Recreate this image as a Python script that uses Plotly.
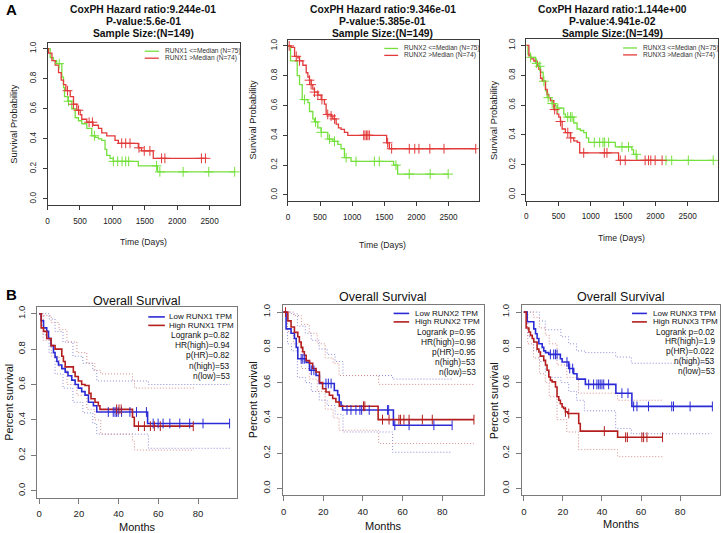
import plotly.graph_objects as go

# ---------------- DATA ----------------
# Panel A (days, survival probability)
A1_low_t = [0, 40, 90, 140, 220, 246, 262, 313, 374, 426, 477, 528, 605, 682, 733, 785, 836, 887, 913, 964, 1015, 1400, 1697, 2887]
A1_low_s = [1.0, 0.94, 0.92, 0.90, 0.81, 0.74, 0.68, 0.65, 0.60, 0.54, 0.52, 0.50, 0.47, 0.42, 0.41, 0.40, 0.39, 0.33, 0.29, 0.27, 0.25, 0.22, 0.18, 0.18]
A1_low_c = [180, 323, 723, 1015, 1082, 1149, 1205, 1251, 1682, 1733, 2092, 2487, 2887]
A1_high_t = [0, 15, 67, 118, 169, 210, 246, 282, 349, 400, 451, 503, 528, 605, 700, 785, 836, 913, 1041, 1092, 1400, 1451, 1631, 2451]
A1_high_s = [1.0, 0.97, 0.92, 0.89, 0.84, 0.79, 0.76, 0.72, 0.68, 0.63, 0.59, 0.56, 0.53, 0.51, 0.49, 0.47, 0.44, 0.42, 0.39, 0.37, 0.34, 0.32, 0.27, 0.27]
A1_high_c = [308, 400, 477, 641, 692, 1144, 1205, 1272, 1410, 1492, 1579, 1759, 1810, 2374, 2436]

A2_low_t = [0, 41, 145, 181, 223, 311, 336, 388, 414, 466, 518, 621, 699, 776, 828, 880, 983, 1646, 1708, 2495]
A2_low_s = [1.0, 0.90, 0.80, 0.74, 0.64, 0.62, 0.56, 0.51, 0.49, 0.45, 0.42, 0.375, 0.36, 0.34, 0.31, 0.25, 0.225, 0.20, 0.14, 0.14]
A2_low_c = [259, 430, 518, 647, 725, 906, 1061, 1346, 1423, 1682, 1889, 2215, 2495]
A2_high_t = [0, 52, 104, 155, 181, 233, 285, 311, 336, 362, 388, 414, 466, 518, 569, 595, 673, 699, 751, 787, 828, 880, 932, 1537, 1579, 2924]
A2_high_s = [1.0, 0.99, 0.93, 0.92, 0.90, 0.87, 0.82, 0.79, 0.77, 0.74, 0.71, 0.69, 0.67, 0.64, 0.61, 0.54, 0.53, 0.51, 0.475, 0.45, 0.44, 0.42, 0.40, 0.35, 0.31, 0.31]
A2_high_c = [20, 130, 181, 336, 362, 414, 466, 530, 620, 673, 725, 1180, 1200, 1225, 1245, 1268, 1553, 1615, 1890, 1975, 2040, 2210, 2430, 2924]

A3_low_t = [0, 26, 67, 144, 195, 221, 262, 298, 324, 376, 401, 453, 478, 581, 607, 736, 787, 838, 890, 931, 967, 1379, 1636, 1662, 1713, 2896]
A3_low_s = [1.0, 0.94, 0.92, 0.88, 0.86, 0.82, 0.76, 0.695, 0.65, 0.63, 0.61, 0.595, 0.58, 0.54, 0.52, 0.48, 0.44, 0.43, 0.415, 0.38, 0.35, 0.32, 0.30, 0.27, 0.23, 0.23]
A3_low_c = [67, 160, 210, 273, 340, 401, 489, 642, 684, 710, 1054, 1137, 1188, 1214, 1276, 1482, 1584, 1702, 2165, 2253, 2510, 2896]
A3_high_t = [0, 41, 67, 118, 170, 195, 221, 247, 298, 324, 350, 376, 427, 478, 504, 530, 556, 607, 684, 736, 790, 828, 1430, 2104]
A3_high_s = [1.0, 0.93, 0.91, 0.895, 0.86, 0.84, 0.78, 0.76, 0.705, 0.67, 0.65, 0.63, 0.57, 0.54, 0.52, 0.49, 0.44, 0.415, 0.38, 0.36, 0.35, 0.28, 0.23, 0.23]
A3_high_c = [440, 530, 643, 690, 890, 1209, 1250, 1457, 1533, 1841, 1893, 1929, 1996, 2104]

A_titles = [
    "CoxPH Hazard ratio:9.244e-01<br>P-value:5.6e-01<br>Sample Size:(N=149)",
    "CoxPH Hazard ratio:9.346e-01<br>P-value:5.385e-01<br>Sample Size:(N=149)",
    "CoxPH Hazard ratio:1.144e+00<br>P-value:4.941e-02<br>Sample Size:(N=149)",
]
A_genes = ["RUNX1", "RUNX2", "RUNX3"]
A_xticks = [0, 500, 1000, 1500, 2000, 2500]
y_ticks = [0.0, 0.2, 0.4, 0.6, 0.8, 1.0]
y_ticktext = ["0.0", "0.2", "0.4", "0.6", "0.8", "1.0"]

# Panel B (months, percent survival)
B1_low_t = [0, 1.0, 2.2, 3.8, 4.7, 6.0, 7.2, 8.0, 8.9, 9.7, 11.4, 13.1, 14.5, 16.4, 18.1, 19.7, 21.4, 23.1, 24.8, 27.3, 29.0, 54.6, 95.9]
B1_low_s = [1.0, 0.96, 0.92, 0.90, 0.86, 0.82, 0.78, 0.755, 0.73, 0.71, 0.69, 0.67, 0.65, 0.625, 0.60, 0.58, 0.56, 0.54, 0.50, 0.48, 0.445, 0.38, 0.38]
B1_low_c = [34.8, 37.3, 38.2, 39.0, 39.8, 41.5, 45.7, 49.0, 54.0, 57.4, 59.9, 62.4, 65.8, 70.8, 75.8, 82.5, 95.9]
B1_high_t = [0, 1.0, 2.2, 3.8, 6.0, 8.0, 11.4, 12.2, 13.1, 17.2, 18.1, 19.7, 21.4, 23.1, 25.1, 26.1, 28.1, 29.8, 30.6, 47.0, 47.9, 77.6]
B1_high_s = [1.0, 0.92, 0.90, 0.86, 0.82, 0.80, 0.76, 0.73, 0.70, 0.67, 0.645, 0.62, 0.60, 0.595, 0.55, 0.52, 0.50, 0.48, 0.46, 0.415, 0.365, 0.365]
B1_high_c = [39.0, 40.2, 41.3, 50.0, 53.0, 56.0, 58.0, 61.0, 77.6]
B1_low_ci_t = [0, 2, 5, 8, 12, 17, 22, 27, 29, 55, 96]
B1_low_up = [1.0, 1.0, 0.97, 0.90, 0.84, 0.76, 0.72, 0.68, 0.62, 0.60, 0.60]
B1_low_lo = [1.0, 0.88, 0.78, 0.66, 0.58, 0.50, 0.44, 0.38, 0.32, 0.24, 0.24]
B1_high_ci_t = [0, 2, 6, 10, 14, 19, 24, 28, 31, 47, 48, 78]
B1_high_up = [1.0, 0.99, 0.95, 0.91, 0.84, 0.78, 0.72, 0.68, 0.66, 0.62, 0.58, 0.58]
B1_high_lo = [1.0, 0.85, 0.76, 0.70, 0.60, 0.54, 0.46, 0.40, 0.32, 0.28, 0.23, 0.23]

B2_low_t = [0, 1.3, 3.8, 5.5, 6.4, 7.2, 11.4, 13.1, 16.4, 18.1, 25.6, 27.3, 28.1, 29.0, 29.8, 55.4, 85.0]
B2_low_s = [1.0, 0.905, 0.88, 0.85, 0.80, 0.735, 0.715, 0.67, 0.64, 0.595, 0.555, 0.53, 0.49, 0.47, 0.445, 0.358, 0.358]
B2_low_c = [8.9, 9.7, 10.5, 14.0, 15.3, 21.4, 22.6, 24.0, 32.0, 34.0, 36.5, 38.5, 39.4, 43.2, 52.4, 53.0, 56.1, 63.3, 75.8, 85.0]
B2_high_t = [0, 2.2, 3.8, 5.5, 7.2, 8.0, 8.9, 9.7, 10.5, 11.4, 13.1, 14.7, 16.4, 18.1, 19.7, 21.4, 23.1, 24.8, 26.4, 28.1, 47.7, 96.0]
B2_high_s = [1.0, 0.95, 0.915, 0.885, 0.86, 0.83, 0.80, 0.775, 0.755, 0.725, 0.71, 0.68, 0.66, 0.60, 0.565, 0.547, 0.528, 0.51, 0.49, 0.466, 0.39, 0.39]
B2_high_c = [1.0, 40.3, 41.0, 49.9, 53.2, 58.2, 59.0, 60.7, 63.3, 70.0, 75.0, 96.0]
B2_low_ci_t = [0, 2, 4, 7, 11, 14, 18, 22, 26, 30, 55, 85]
B2_low_up = [1.0, 1.0, 0.99, 0.92, 0.88, 0.84, 0.79, 0.76, 0.72, 0.64, 0.62, 0.62]
B2_low_lo = [1.0, 0.82, 0.78, 0.63, 0.60, 0.55, 0.50, 0.47, 0.42, 0.32, 0.205, 0.205]
B2_high_ci_t = [0, 2, 5, 9, 13, 17, 21, 25, 28, 48, 96]
B2_high_up = [1.0, 1.0, 0.98, 0.93, 0.88, 0.82, 0.74, 0.71, 0.64, 0.59, 0.59]
B2_high_lo = [1.0, 0.89, 0.82, 0.68, 0.62, 0.55, 0.45, 0.40, 0.33, 0.255, 0.255]

B3_low_t = [0, 1.7, 5.1, 6.0, 6.8, 7.7, 9.4, 10.2, 11.1, 12.8, 18.7, 19.6, 23.0, 25.5, 27.2, 31.5, 47.1, 55.3, 96.5]
B3_low_s = [1.0, 0.945, 0.905, 0.877, 0.85, 0.82, 0.80, 0.78, 0.77, 0.76, 0.735, 0.717, 0.68, 0.65, 0.62, 0.59, 0.54, 0.465, 0.465]
B3_low_c = [13.6, 15.3, 16.2, 17.0, 22.1, 23.5, 25.0, 33.2, 35.7, 37.4, 38.3, 39.1, 40.0, 40.9, 43.4, 50.2, 53.3, 56.2, 57.9, 63.8, 75.7, 76.6, 85.1, 96.5]
B3_high_t = [0, 1.2, 2.6, 3.4, 4.3, 5.1, 6.8, 7.7, 8.5, 10.2, 11.1, 11.9, 12.8, 13.6, 14.5, 16.2, 17.0, 17.9, 18.7, 19.6, 20.4, 21.3, 22.5, 28.1, 28.9, 48.0, 71.0]
B3_high_s = [1.0, 0.91, 0.887, 0.868, 0.85, 0.83, 0.79, 0.774, 0.75, 0.726, 0.70, 0.67, 0.632, 0.613, 0.604, 0.575, 0.52, 0.50, 0.48, 0.462, 0.453, 0.434, 0.425, 0.368, 0.325, 0.29, 0.29]
B3_high_c = [21.3, 23.0, 41.2, 52.1, 53.0, 60.4, 61.3, 63.0, 71.0]
B3_low_ci_t = [0, 2, 5, 8, 11, 13, 19, 23, 27, 31, 47, 55, 96]
B3_low_up = [1.0, 1.0, 1.0, 0.95, 0.90, 0.90, 0.86, 0.82, 0.78, 0.77, 0.745, 0.71, 0.71]
B3_low_lo = [1.0, 0.86, 0.78, 0.72, 0.66, 0.63, 0.60, 0.55, 0.50, 0.44, 0.34, 0.31, 0.31]
B3_high_ci_t = [0, 2, 5, 8, 11, 13, 17, 22, 28, 48, 71]
B3_high_up = [1.0, 1.0, 0.97, 0.91, 0.87, 0.82, 0.70, 0.63, 0.54, 0.50, 0.50]
B3_high_lo = [1.0, 0.82, 0.74, 0.65, 0.60, 0.52, 0.39, 0.32, 0.22, 0.18, 0.18]

B_genes = ["RUNX1", "RUNX2", "RUNX3"]
B_stats = [
    ["Logrank p=0.82", "HR(high)=0.94", "p(HR)=0.82", "n(high)=53", "n(low)=53"],
    ["Logrank p=0.95", "HR(high)=0.98", "p(HR)=0.95", "n(high)=53", "n(low)=53"],
    ["Logrank p=0.02", "HR(high)=1.9", "p(HR)=0.022", "n(high)=53", "n(low)=53"],
]
B_xticks = [0, 20, 40, 60, 80]

# ---------------- LAYOUT HELPERS ----------------
W, H = 724, 533
FONT = "Liberation Sans, Arial, Helvetica, sans-serif"
GREEN = "#74e03c"
RED_A = "#e23a3a"
BLUE = "#2b2bd6"
RED_B = "#b41e1e"
CI_BLUE = "#8a8ad6"
CI_RED = "#d68a8a"


def fx(px):
    return px / W


def fy(px):
    return 1 - px / H


def step_at(ts, ss, t):
    v = ss[0]
    for ti, si in zip(ts, ss):
        if ti <= t:
            v = si
    return v


def ann(text, xpx, ypx, size, angle=0, xanchor="center", color="#111"):
    return dict(text=text, x=fx(xpx), y=fy(ypx), xref="paper", yref="paper", xanchor=xanchor,
                yanchor="middle", textangle=angle, showarrow=False,
                font=dict(family=FONT, size=size, color=color))


fig = go.Figure()
annotations = []
shapes = []

# Panel A geometry (pixel boxes: left, right, top, bottom)
A_boxes = [(45.7, 238.7, 41.7, 204.3), (286.7, 478.0, 39.0, 200.3), (525.7, 718.0, 38.5, 200.0)]
A_data = [
    (A1_low_t, A1_low_s, A1_low_c, A1_high_t, A1_high_s, A1_high_c),
    (A2_low_t, A2_low_s, A2_low_c, A2_high_t, A2_high_s, A2_high_c),
    (A3_low_t, A3_low_s, A3_low_c, A3_high_t, A3_high_s, A3_high_c),
]
A_title_cx = [141.7, 381.7, 611.7]
A_ylab_x = [12, 251.7, 493.3]
A_xlab_y = [241, 244, 237]

for i in range(3):
    n = i + 1
    xa = "x" if n == 1 else f"x{n}"
    ya = "y" if n == 1 else f"y{n}"
    l, r, t, b = A_boxes[i]
    lt, ls, lc, ht, hs, hc = A_data[i]
    fig.add_trace(go.Scatter(x=lt, y=ls, mode="lines", line=dict(color=GREEN, width=1.3, shape="hv"),
                             xaxis=xa, yaxis=ya, showlegend=False, hoverinfo="skip"))
    fig.add_trace(go.Scatter(x=ht, y=hs, mode="lines", line=dict(color=RED_A, width=1.3, shape="hv"),
                             xaxis=xa, yaxis=ya, showlegend=False, hoverinfo="skip"))
    fig.add_trace(go.Scatter(x=lc, y=[step_at(lt, ls, c) for c in lc], mode="markers",
                             marker=dict(symbol="cross-thin-open", size=7, color=GREEN, line=dict(color=GREEN, width=1)),
                             xaxis=xa, yaxis=ya, showlegend=False, hoverinfo="skip"))
    fig.add_trace(go.Scatter(x=hc, y=[step_at(ht, hs, c) for c in hc], mode="markers",
                             marker=dict(symbol="cross-thin-open", size=7, color=RED_A, line=dict(color=RED_A, width=1)),
                             xaxis=xa, yaxis=ya, showlegend=False, hoverinfo="skip"))
    axkey = "xaxis" if n == 1 else f"xaxis{n}"
    aykey = "yaxis" if n == 1 else f"yaxis{n}"
    fig.layout[axkey] = dict(domain=[fx(l), fx(r)], anchor=ya, range=[0, 2970], tickvals=A_xticks,
                             showline=True, mirror=True, linecolor="#3a3a3a", linewidth=1,
                             ticks="outside", ticklen=4, tickcolor="#3a3a3a", showgrid=False, zeroline=False,
                             tickfont=dict(family=FONT, size=8.2, color="#222"), ticklabelstandoff=4)
    fig.layout[aykey] = dict(domain=[fy(b), fy(t)], anchor=xa, range=[-0.04, 1.04], tickvals=y_ticks,
                             ticktext=y_ticktext, tickangle=-90,
                             showline=True, mirror=True, linecolor="#3a3a3a", linewidth=1,
                             ticks="outside", ticklen=4, tickcolor="#3a3a3a", showgrid=False, zeroline=False,
                             tickfont=dict(family=FONT, size=8.2, color="#222"), ticklabelstandoff=3)
    title_lines = A_titles[i].split("<br>")
    for k, line in enumerate(title_lines):
        annotations.append(ann("<b>" + line + "</b>", A_title_cx[i], 9.0 + 12.0 * k, 10.3))
    annotations.append(ann("Survival Probability", A_ylab_x[i], (t + b) / 2, 9.3, angle=-90, color="#222"))
    annotations.append(ann("Time (Days)", (l + r) / 2 - 0.5, A_xlab_y[i], 8.7, color="#222"))
    # legend
    for col, lab, yy in [(GREEN, f"{A_genes[i]} <=Median (N=75)", 0.947),
                         (RED_A, f"{A_genes[i]} >Median (N=74)", 0.904)]:
        shapes.append(dict(type="line", xref=f"{xa} domain", yref=f"{ya} domain",
                           x0=0.505, x1=0.578, y0=yy, y1=yy, line=dict(color=col, width=1.3)))
        annotations.append(dict(text=lab, x=0.6, y=yy, xref=f"{xa} domain", yref=f"{ya} domain",
                                xanchor="left", yanchor="middle", showarrow=False,
                                font=dict(family=FONT, size=6.6, color="#333")))

# Panel B geometry
B_boxes = [(35.5, 236.0, 306.2, 497.8), (281.7, 483.0, 304.6, 495.4), (521.5, 720.0, 304.6, 495.4)]
B_xr = [[-0.9, 99.8], [-0.3, 100.9], [-0.9, 100.4]]
B_data = [
    (B1_low_t, B1_low_s, B1_low_c, B1_high_t, B1_high_s, B1_high_c,
     B1_low_ci_t, B1_low_up, B1_low_lo, B1_high_ci_t, B1_high_up, B1_high_lo),
    (B2_low_t, B2_low_s, B2_low_c, B2_high_t, B2_high_s, B2_high_c,
     B2_low_ci_t, B2_low_up, B2_low_lo, B2_high_ci_t, B2_high_up, B2_high_lo),
    (B3_low_t, B3_low_s, B3_low_c, B3_high_t, B3_high_s, B3_high_c,
     B3_low_ci_t, B3_low_up, B3_low_lo, B3_high_ci_t, B3_high_up, B3_high_lo),
]
B_title_y = [300.7, 296.7, 296.5]
B_ylab_x = [7.5, 251.7, 493.3]
B_xlab_y = [527, 525.5, 523.5]
B_leg = [  # sample x0, x1, text x, low y, high y, stats right x, stats y list
    (146.7, 163.3, 165.7, 316.5, 325.0, 231.0, [334.3, 344.3, 355.0, 365.5, 375.7]),
    (392.7, 408.3, 411.7, 313.0, 321.5, 477.7, [332.0, 341.7, 351.7, 361.7, 371.7]),
    (631.7, 646.7, 650.7, 313.0, 321.5, 716.7, [331.5, 341.0, 351.0, 361.0, 370.5]),
]

for i in range(3):
    n = i + 4
    xa, ya = f"x{n}", f"y{n}"
    l, r, t, b = B_boxes[i]
    (lt, ls, lc, ht, hs, hc, lci, lup, llo, hci, hup, hlo) = B_data[i]
    for ct, cs, col in [(lci, lup, CI_BLUE), (lci, llo, CI_BLUE), (hci, hup, CI_RED), (hci, hlo, CI_RED)]:
        fig.add_trace(go.Scatter(x=ct, y=cs, mode="lines",
                                 line=dict(color=col, width=1, dash="1px,2px", shape="hv"),
                                 xaxis=xa, yaxis=ya, showlegend=False, hoverinfo="skip"))
    fig.add_trace(go.Scatter(x=lt, y=ls, mode="lines", line=dict(color=BLUE, width=1.6, shape="hv"),
                             xaxis=xa, yaxis=ya, showlegend=False, hoverinfo="skip"))
    fig.add_trace(go.Scatter(x=ht, y=hs, mode="lines", line=dict(color=RED_B, width=1.6, shape="hv"),
                             xaxis=xa, yaxis=ya, showlegend=False, hoverinfo="skip"))
    fig.add_trace(go.Scatter(x=lc, y=[step_at(lt, ls, c) for c in lc], mode="markers",
                             marker=dict(symbol="line-ns-open", size=7, color=BLUE, line=dict(color=BLUE, width=1)),
                             xaxis=xa, yaxis=ya, showlegend=False, hoverinfo="skip"))
    fig.add_trace(go.Scatter(x=hc, y=[step_at(ht, hs, c) for c in hc], mode="markers",
                             marker=dict(symbol="line-ns-open", size=7, color=RED_B, line=dict(color=RED_B, width=1)),
                             xaxis=xa, yaxis=ya, showlegend=False, hoverinfo="skip"))
    fig.layout[f"xaxis{n}"] = dict(domain=[fx(l), fx(r)], anchor=ya, range=B_xr[i], tickvals=B_xticks,
                                   showline=True, mirror=True, linecolor="#7a7a7a", linewidth=1,
                                   ticks="outside", ticklen=5, tickcolor="#7a7a7a", showgrid=False, zeroline=False,
                                   tickfont=dict(family=FONT, size=9.5, color="#222"), ticklabelstandoff=2)
    fig.layout[f"yaxis{n}"] = dict(domain=[fy(b), fy(t)], anchor=xa, range=[-0.04, 1.04], tickvals=y_ticks,
                                   ticktext=y_ticktext, tickangle=-90,
                                   showline=True, mirror=True, linecolor="#7a7a7a", linewidth=1,
                                   ticks="outside", ticklen=5, tickcolor="#7a7a7a", showgrid=False, zeroline=False,
                                   tickfont=dict(family=FONT, size=9.5, color="#222"), ticklabelstandoff=3)
    annotations.append(ann("Overall Survival", (l + r) / 2, B_title_y[i], 12.5))
    annotations.append(ann("Percent survival", B_ylab_x[i], (t + b) / 2, 10.8, angle=-90))
    annotations.append(ann("Months", (l + r) / 2, B_xlab_y[i], 11))
    sx0, sx1, tx, ly, hy, rx, sy = B_leg[i]
    for col, lab, yy in [(BLUE, f"Low {B_genes[i]} TPM", ly), (RED_B, f"High {B_genes[i]} TPM", hy)]:
        shapes.append(dict(type="line", xref="paper", yref="paper", x0=fx(sx0), x1=fx(sx1),
                           y0=fy(yy), y1=fy(yy), line=dict(color=col, width=1.6)))
        annotations.append(ann(lab, tx, yy, 8.0, xanchor="left"))
    for s_txt, yy in zip(B_stats[i], sy):
        annotations.append(ann(s_txt, rx, yy, 8.4, xanchor="right"))

# Panel letters
annotations.append(ann("<b>A</b>", 2, 8.5, 15, xanchor="left", color="#000"))
annotations.append(ann("<b>B</b>", 2, 294, 15, xanchor="left", color="#000"))

fig.update_layout(width=W, height=H, autosize=False, margin=dict(l=0, r=0, t=0, b=0),
                  paper_bgcolor="white", plot_bgcolor="white", showlegend=False,
                  annotations=annotations, shapes=shapes)

fig.write_html("out.html", config={"displayModeBar": False},
               post_script="document.body.style.margin='0';document.body.style.padding='0';"
                           "document.documentElement.style.overflow='hidden';")
